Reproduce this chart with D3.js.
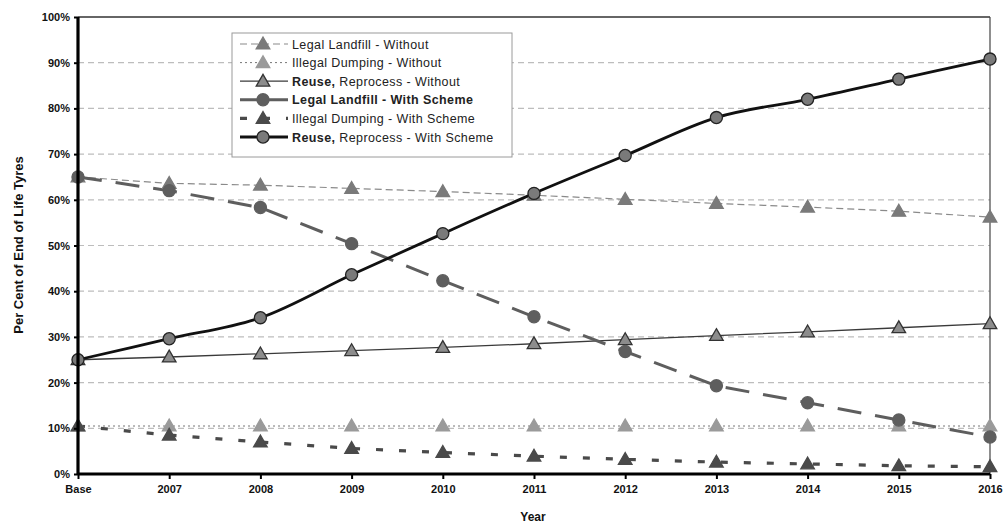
<!DOCTYPE html>
<html><head><meta charset="utf-8">
<script src="https://cdn.jsdelivr.net/npm/d3@7"></script>
<style>body{margin:0;background:#fff}svg{display:block;font-family:"Liberation Sans",Arial,sans-serif}</style>
</head><body><svg id="c" width="1003" height="526"></svg>
<script>
const categories = ["Base","2007","2008","2009","2010","2011","2012","2013","2014","2015","2016"];
const yTicks = [0,10,20,30,40,50,60,70,80,90,100];
const legalWithout   = [65,63.6,63.2,62.5,61.8,61,60.1,59.2,58.4,57.5,56.2];
const illegalWithout = [10.5,10.5,10.5,10.5,10.5,10.5,10.5,10.5,10.5,10.5,10.5];
const reuseWithout   = [25,25.6,26.3,27,27.7,28.5,29.4,30.3,31.1,32,32.9];
const legalWith      = [65,62,58.3,50.4,42.3,34.4,26.8,19.3,15.6,11.8,8.1];
const illegalWith    = [10.5,8.5,7,5.6,4.7,3.9,3.2,2.6,2.2,1.8,1.6];
const reuseWith      = [25,29.6,34.2,43.6,52.6,61.4,69.7,78,82,86.4,90.8];
const seriesNames = ["Legal Landfill - Without","Illegal Dumping - Without","Reuse, Reprocess - Without","Legal Landfill - With Scheme","Illegal Dumping - With Scheme","Reuse, Reprocess - With Scheme"];

const svg = d3.select("#c");
const L=78, R=990, T=17, B=474;
const x = d3.scalePoint().domain(categories).range([L,R]);
const y = d3.scaleLinear().domain([0,100]).range([B,T]);

// gridlines
svg.append("g").selectAll("line").data(yTicks.filter(d=>d>0&&d<100)).join("line")
  .attr("x1",L).attr("x2",R).attr("y1",d=>y(d)).attr("y2",d=>y(d))
  .attr("stroke","#bdbdbd").attr("stroke-width",1.2).attr("stroke-dasharray","6,4");
// top and right border
svg.append("line").attr("x1",L).attr("x2",R).attr("y1",y(100)).attr("y2",y(100)).attr("stroke","#333").attr("stroke-width",1.5);
svg.append("line").attr("x1",R).attr("x2",R).attr("y1",y(100)).attr("y2",B).attr("stroke","#444").attr("stroke-width",1.2);

const styles = [
  {data:legalWithout, stroke:"#8a8a8a", w:1.2, dash:"7,4", curve:d3.curveLinear, marker:"tri", fill:"#7a7a7a", mstroke:"#7a7a7a"},
  {data:illegalWithout, stroke:"#777", w:1, dash:"2,3", curve:d3.curveLinear, marker:"tri", fill:"#9a9a9a", mstroke:"#9a9a9a"},
  {data:reuseWithout, stroke:"#3a3a3a", w:1.3, dash:null, curve:d3.curveLinear, marker:"tri", fill:"#8c8c8c", mstroke:"#333"},
  {data:legalWith, stroke:"#5e5e5e", w:3, dash:"24,14", curve:d3.curveLinear, marker:"circ", fill:"#5e5e5e", mstroke:"#5e5e5e"},
  {data:illegalWith, stroke:"#4a4a4a", w:3.2, dash:"7,16", curve:d3.curveLinear, marker:"tri", fill:"#4a4a4a", mstroke:"#4a4a4a"},
  {data:reuseWith, stroke:"#111", w:2.8, dash:null, curve:d3.curveCatmullRom.alpha(0.5), marker:"circ", fill:"#7a7a7a", mstroke:"#222"}
];
const triSym = d3.symbol().type(d3.symbolTriangle).size(80);
const circSym = d3.symbol().type(d3.symbolCircle).size(115);

function drawMarker(g, s, cx, cy){
  g.append("path").attr("d", s.marker==="tri"?triSym():circSym())
   .attr("transform",`translate(${cx},${cy+(s.marker==="tri"?1:0)})`)
   .attr("fill",s.fill).attr("stroke",s.mstroke).attr("stroke-width",1.3);
}

styles.forEach(s=>{
  const line = d3.line().x((d,i)=>x(categories[i])).y(d=>y(d)).curve(s.curve);
  svg.append("path").datum(s.data).attr("d",line).attr("fill","none")
    .attr("stroke",s.stroke).attr("stroke-width",s.w)
    .attr("stroke-dasharray",s.dash);
});
styles.forEach(s=>{
  const g = svg.append("g");
  s.data.forEach((d,i)=>drawMarker(g,s,x(categories[i]),y(d)));
});

// axes
const yAxis = d3.axisLeft(y).tickValues(yTicks).tickFormat(d=>d+"%").tickSize(4).tickPadding(4);
const ya = svg.append("g").attr("transform",`translate(${L},0)`).call(yAxis);
const xAxis = d3.axisBottom(x).tickSize(5).tickPadding(6);
const xa = svg.append("g").attr("transform",`translate(0,${B})`).call(xAxis);
[ya,xa].forEach(a=>{
  a.select(".domain").attr("stroke","#000").attr("stroke-width",3.2);
  a.selectAll(".tick line").attr("stroke","#000").attr("stroke-width",2);
  a.selectAll("text").attr("fill","#111").attr("font-size",11).attr("font-weight","bold")
   .attr("font-family","Liberation Sans, Arial, sans-serif");
});
ya.select(".domain").attr("d",`M0,${B}V${T}`);
xa.select(".domain").attr("d",`M${L},0H${R}`);

svg.append("text").attr("x",533).attr("y",521).attr("text-anchor","middle")
  .attr("font-size",12).attr("font-weight","bold").attr("fill","#111").text("Year");
svg.append("text").attr("transform",`translate(23,245) rotate(-90)`).attr("text-anchor","middle")
  .attr("font-size",13).attr("font-weight","bold").attr("fill","#111").text("Per Cent of End of Life Tyres");

// legend
const lg = svg.append("g");
lg.append("rect").attr("x",232).attr("y",33).attr("width",280).attr("height",124)
  .attr("fill","#fff").attr("stroke","#9a9a9a").attr("stroke-width",1);
const ly = d3.scalePoint().domain(seriesNames).range([44,137]);
const boldParts = [null,null,"Reuse,",  "all", null, "Reuse,"];
seriesNames.forEach((n,i)=>{
  const s = styles[i], yy = ly(n);
  lg.append("line").attr("x1",240).attr("x2",288).attr("y1",yy).attr("y2",yy)
    .attr("stroke",s.stroke).attr("stroke-width",s.w).attr("stroke-dasharray",s.dash?(i===3?"30,0":s.dash):null);
  drawMarker(lg,s,263,yy);
  const t = lg.append("text").attr("x",292).attr("y",yy+4.5).attr("font-size",12.5)
    .attr("letter-spacing","0.4px").attr("fill","#222");
  if(boldParts[i]==="all"){ t.attr("font-weight","bold").text(n); }
  else if(boldParts[i]){ t.append("tspan").attr("font-weight","bold").text(boldParts[i]); t.append("tspan").text(n.slice(boldParts[i].length)); }
  else t.text(n);
});
</script></body></html>
